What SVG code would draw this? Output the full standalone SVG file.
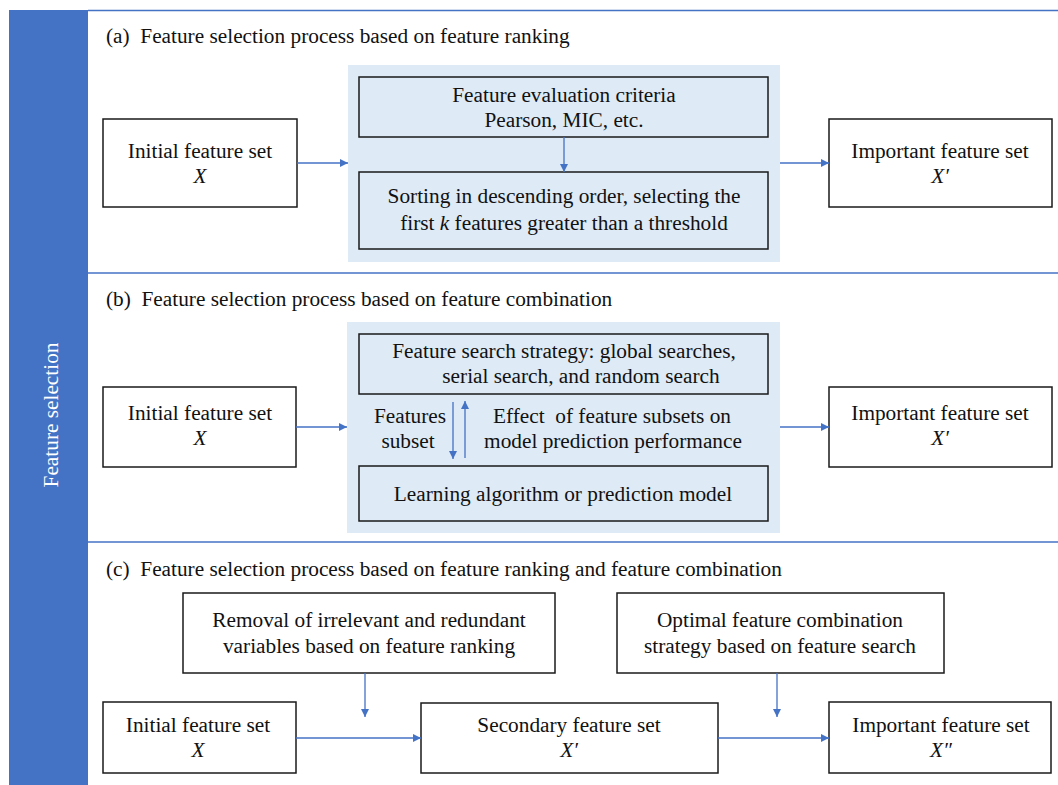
<svg xmlns="http://www.w3.org/2000/svg" width="1058" height="785" viewBox="0 0 1058 785">
<defs>
<style>
text{font-family:"Liberation Serif","Times New Roman",serif;font-size:21.3px;fill:#111;}
.c{text-anchor:middle;}
.i{font-style:italic;}
.box{fill:#fff;stroke:#1a1a1a;stroke-width:1.5;}
.inner{fill:none;stroke:#1a1a1a;stroke-width:1.5;}
.panel{fill:#DEEAF6;stroke:none;}
.sep{stroke:#4472C4;stroke-width:1.5;fill:none;}
.con{stroke:#4472C4;stroke-width:1.3;fill:none;marker-end:url(#ah);}
</style>
<marker id="ah" viewBox="0 0 10 10" refX="10" refY="5" markerWidth="8" markerHeight="8" markerUnits="userSpaceOnUse" orient="auto">
<path d="M0,0 L10,5 L0,10 z" fill="#4472C4"/>
</marker>
</defs>
<rect width="1058" height="785" fill="#fff"/>

<g id="sidebar">
<rect x="9" y="10" width="79" height="775" fill="#4472C4"/>
<text transform="translate(58,415) rotate(-90)" class="c" style="fill:#fff">Feature selection</text>
</g>

<g id="separators">
<line class="sep" x1="88" y1="10.5" x2="1058" y2="10.5"/>
<line class="sep" x1="88" y1="273" x2="1058" y2="273"/>
<line class="sep" x1="88" y1="542" x2="1058" y2="542"/>
</g>

<g id="section-a">
<text x="106" y="43" xml:space="preserve">(a)  Feature selection process based on feature ranking</text>
</g>
<g id="a-initial">
<rect class="box" x="103" y="119" width="194" height="88"/>
<text class="c" x="200" y="158">Initial feature set</text>
<text class="c i" x="200" y="183">X</text>
</g>
<g id="a-panel">
<rect class="panel" x="348" y="65" width="432" height="197"/>
</g>
<g id="a-criteria">
<rect class="inner" x="359" y="77" width="409" height="60"/>
<text class="c" x="564" y="102">Feature evaluation criteria</text>
<text class="c" x="564" y="127">Pearson, MIC, etc.</text>
</g>
<g id="a-sorting">
<rect class="inner" x="359" y="172" width="409" height="77"/>
<text class="c" x="564" y="203">Sorting in descending order, selecting the</text>
<text class="c" x="564" y="230">first <tspan class="i">k</tspan> features greater than a threshold</text>
</g>
<g id="a-important">
<rect class="box" x="829" y="119" width="223" height="88"/>
<text class="c" x="940" y="158">Important feature set</text>
<text class="c i" x="940" y="183">X′</text>
</g>

<g id="section-b">
<text x="106" y="306" xml:space="preserve">(b)  Feature selection process based on feature combination</text>
</g>
<g id="b-initial">
<rect class="box" x="103" y="387" width="193" height="80"/>
<text class="c" x="200" y="420">Initial feature set</text>
<text class="c i" x="200" y="445">X</text>
</g>
<g id="b-panel">
<rect class="panel" x="347" y="322" width="433" height="211"/>
</g>
<g id="b-search">
<rect class="inner" x="359" y="334" width="409" height="60"/>
<text class="c" x="564" y="358">Feature search strategy: global searches,</text>
<text class="c" x="581" y="383">serial search, and random search</text>
</g>
<g id="b-labels">
<text class="c" x="410" y="423">Features</text>
<text class="c" x="408" y="448">subset</text>
<text class="c" x="612" y="423" xml:space="preserve">Effect  of feature subsets on</text>
<text class="c" x="613" y="448">model prediction performance</text>
</g>
<g id="b-learning">
<rect class="inner" x="359" y="466" width="409" height="55"/>
<text class="c" x="563" y="501">Learning algorithm or prediction model</text>
</g>
<g id="b-important">
<rect class="box" x="829" y="387" width="223" height="80"/>
<text class="c" x="940" y="420">Important feature set</text>
<text class="c i" x="940" y="445">X′</text>
</g>

<g id="section-c">
<text x="106" y="576" xml:space="preserve">(c)  Feature selection process based on feature ranking and feature combination</text>
</g>
<g id="c-removal">
<rect class="box" x="183" y="593" width="372" height="80"/>
<text class="c" x="369" y="627">Removal of irrelevant and redundant</text>
<text class="c" x="369" y="653">variables based on feature ranking</text>
</g>
<g id="c-optimal">
<rect class="box" x="617" y="593" width="327" height="80"/>
<text class="c" x="780" y="627">Optimal feature combination</text>
<text class="c" x="780" y="653">strategy based on feature search</text>
</g>
<g id="c-initial">
<rect class="box" x="103" y="702" width="193" height="71"/>
<text class="c" x="198" y="732">Initial feature set</text>
<text class="c i" x="198" y="757">X</text>
</g>
<g id="c-secondary">
<rect class="box" x="421" y="703" width="297" height="70"/>
<text class="c" x="569" y="732">Secondary feature set</text>
<text class="c i" x="569" y="757">X′</text>
</g>
<g id="c-important">
<rect class="box" x="829" y="702" width="222" height="71"/>
<text class="c" x="941" y="732">Important feature set</text>
<text class="c i" x="941" y="757">X″</text>
</g>

<g id="connectors">
<line class="con" x1="297" y1="163" x2="348" y2="163"/>
<line class="con" x1="564" y1="137" x2="564" y2="172"/>
<line class="con" x1="780" y1="163" x2="829" y2="163"/>
<line class="con" x1="296" y1="427" x2="347" y2="427"/>
<line class="con" x1="453" y1="402" x2="453" y2="459"/>
<line class="con" x1="465" y1="458" x2="465" y2="401"/>
<line class="con" x1="780" y1="427" x2="829" y2="427"/>
<line class="con" x1="365" y1="673" x2="365" y2="717"/>
<line class="con" x1="777" y1="673" x2="777" y2="717"/>
<line class="con" x1="296" y1="738" x2="421" y2="738"/>
<line class="con" x1="718" y1="738" x2="829" y2="738"/>
</g>
</svg>
